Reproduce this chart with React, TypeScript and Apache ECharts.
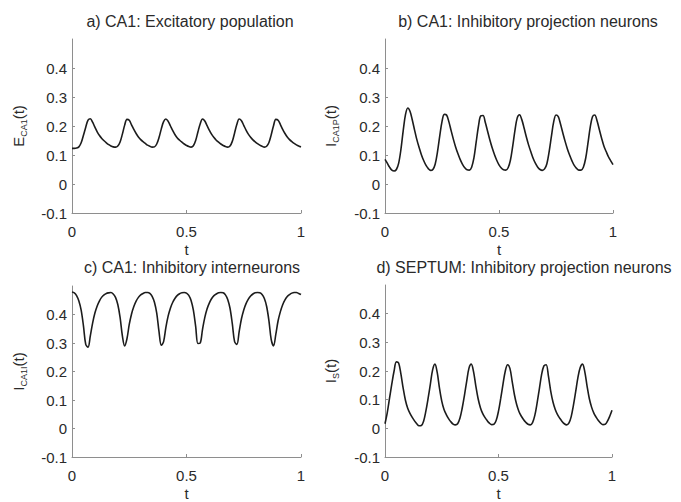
import React, { useEffect, useRef } from 'react';
import * as echarts from 'echarts';

// time grid (s)
const T = [
  0, 0.01, 0.02, 0.03, 0.04, 0.05, 0.06, 0.07, 0.08, 0.09,
  0.1, 0.11, 0.12, 0.13, 0.14, 0.15, 0.16, 0.17, 0.18, 0.19,
  0.2, 0.21, 0.22, 0.23, 0.24, 0.25, 0.26, 0.27, 0.28, 0.29,
  0.3, 0.31, 0.32, 0.33, 0.34, 0.35, 0.36, 0.37, 0.38, 0.39,
  0.4, 0.41, 0.42, 0.43, 0.44, 0.45, 0.46, 0.47, 0.48, 0.49,
  0.5, 0.51, 0.52, 0.53, 0.54, 0.55, 0.56, 0.57, 0.58, 0.59,
  0.6, 0.61, 0.62, 0.63, 0.64, 0.65, 0.66, 0.67, 0.68, 0.69,
  0.7, 0.71, 0.72, 0.73, 0.74, 0.75, 0.76, 0.77, 0.78, 0.79,
  0.8, 0.81, 0.82, 0.83, 0.84, 0.85, 0.86, 0.87, 0.88, 0.89,
  0.9, 0.91, 0.92, 0.93, 0.94, 0.95, 0.96, 0.97, 0.98, 0.99, 1,
];

// a) CA1 excitatory population E_CA1(t)
const E_CA1 = [
  0.123, 0.123, 0.124, 0.128, 0.142, 0.168, 0.196, 0.220, 0.225, 0.213,
  0.196, 0.180, 0.167, 0.157, 0.149, 0.142, 0.136, 0.131, 0.128, 0.127,
  0.131, 0.145, 0.172, 0.203, 0.223, 0.220, 0.204, 0.188, 0.174, 0.162,
  0.153, 0.146, 0.140, 0.134, 0.130, 0.127, 0.128, 0.138, 0.160, 0.190,
  0.215, 0.224, 0.216, 0.200, 0.184, 0.170, 0.159, 0.151, 0.144, 0.138,
  0.133, 0.129, 0.127, 0.132, 0.150, 0.180, 0.208, 0.224, 0.217, 0.201,
  0.185, 0.171, 0.160, 0.151, 0.144, 0.138, 0.133, 0.129, 0.127, 0.131,
  0.147, 0.176, 0.206, 0.224, 0.218, 0.202, 0.186, 0.172, 0.161, 0.152,
  0.145, 0.139, 0.134, 0.130, 0.127, 0.130, 0.143, 0.170, 0.201, 0.223,
  0.220, 0.205, 0.188, 0.174, 0.162, 0.153, 0.146, 0.140, 0.135, 0.131, 0.128,
];

// b) CA1 inhibitory projection neurons I_CA1P(t)
const I_CA1P = [
  0.085, 0.072, 0.058, 0.048, 0.045, 0.050, 0.072, 0.120, 0.185, 0.240,
  0.262, 0.250, 0.220, 0.185, 0.152, 0.125, 0.100, 0.080, 0.064, 0.053,
  0.047, 0.050, 0.068, 0.110, 0.165, 0.215, 0.240, 0.238, 0.215, 0.184,
  0.154, 0.127, 0.104, 0.084, 0.068, 0.056, 0.049, 0.048, 0.058, 0.090,
  0.145, 0.200, 0.235, 0.236, 0.212, 0.182, 0.152, 0.125, 0.102, 0.082,
  0.066, 0.055, 0.049, 0.048, 0.056, 0.082, 0.130, 0.185, 0.228, 0.239,
  0.222, 0.193, 0.162, 0.134, 0.110, 0.088, 0.071, 0.058, 0.050, 0.047,
  0.052, 0.070, 0.112, 0.165, 0.215, 0.238, 0.232, 0.206, 0.176, 0.147,
  0.121, 0.099, 0.080, 0.064, 0.054, 0.048, 0.048, 0.058, 0.088, 0.140,
  0.195, 0.232, 0.238, 0.218, 0.188, 0.158, 0.131, 0.112, 0.094, 0.080, 0.067,
];

// c) CA1 inhibitory interneurons I_CA1I(t)
const I_CA1I = [
  0.479, 0.476, 0.466, 0.447, 0.415, 0.360, 0.295, 0.285, 0.325, 0.370,
  0.405, 0.430, 0.448, 0.461, 0.469, 0.474, 0.476, 0.477, 0.472, 0.460,
  0.435, 0.390, 0.325, 0.290, 0.315, 0.365, 0.402, 0.428, 0.447, 0.460,
  0.469, 0.474, 0.477, 0.477, 0.474, 0.464, 0.443, 0.405, 0.340, 0.292,
  0.305, 0.355, 0.395, 0.423, 0.443, 0.457, 0.467, 0.473, 0.476, 0.477,
  0.475, 0.467, 0.449, 0.415, 0.358, 0.298, 0.300, 0.348, 0.390, 0.420,
  0.441, 0.456, 0.466, 0.472, 0.476, 0.477, 0.476, 0.469, 0.453, 0.422,
  0.368, 0.305, 0.295, 0.340, 0.385, 0.416, 0.438, 0.454, 0.465, 0.472,
  0.476, 0.477, 0.476, 0.470, 0.456, 0.428, 0.378, 0.312, 0.290, 0.330,
  0.378, 0.410, 0.434, 0.451, 0.463, 0.470, 0.475, 0.477, 0.477, 0.474, 0.470,
];

// d) SEPTUM inhibitory projection neurons I_S(t)
const I_S = [
  0.016, 0.055, 0.105, 0.155, 0.200, 0.232, 0.228, 0.190, 0.140, 0.098,
  0.070, 0.052, 0.038, 0.026, 0.016, 0.009, 0.010, 0.025, 0.060, 0.105,
  0.155, 0.205, 0.224, 0.195, 0.140, 0.095, 0.066, 0.048, 0.034, 0.023,
  0.015, 0.012, 0.016, 0.035, 0.070, 0.115, 0.165, 0.210, 0.224, 0.198,
  0.148, 0.104, 0.073, 0.052, 0.038, 0.027, 0.018, 0.013, 0.014, 0.028,
  0.060, 0.105, 0.155, 0.200, 0.222, 0.210, 0.165, 0.118, 0.083, 0.059,
  0.043, 0.031, 0.021, 0.014, 0.012, 0.020, 0.045, 0.088, 0.138, 0.188,
  0.218, 0.222, 0.182, 0.130, 0.092, 0.066, 0.048, 0.035, 0.024, 0.016,
  0.012, 0.018, 0.040, 0.080, 0.128, 0.178, 0.212, 0.224, 0.198, 0.148,
  0.104, 0.074, 0.053, 0.039, 0.027, 0.018, 0.013, 0.014, 0.025, 0.042, 0.063,
];

const Y_TICKS = [-0.1, 0, 0.1, 0.2, 0.3, 0.4];
const X_TICKS = [0, 0.5, 1];
const TITLES = [
  'a) CA1: Excitatory population',
  'b) CA1: Inhibitory projection neurons',
  'c) CA1: Inhibitory interneurons',
  'd) SEPTUM: Inhibitory projection neurons',
];
const Y_NAMES = [
  ['E', 'CA1'],
  ['I', 'CA1P'],
  ['I', 'CA1I'],
  ['I', 'S'],
];
const X_NAME = 't';
const SERIES = [E_CA1, I_CA1P, I_CA1I, I_S];

const FONT = '"Liberation Sans", Arial, Helvetica, sans-serif';
const AXIS_COLOR = '#8e8e8e';
const TEXT_COLOR = '#2a2a2a';
const LINE_COLOR = '#1c1c1c';

const GRIDS = [
  { left: 72, top: 39, width: 229, height: 174 },
  { left: 385, top: 39, width: 228, height: 174 },
  { left: 72, top: 286, width: 229, height: 176 },
  { left: 385, top: 285, width: 227, height: 176 },
];
const TITLE_POS = [
  { left: 190, top: 13 },
  { left: 528, top: 13 },
  { left: 192, top: 259 },
  { left: 524, top: 259 },
];
const Y_NAME_GAP = [44, 45, 44, 45];

const fmt = (v: number) => {
  const r = Math.round(v * 10) / 10;
  return r === 0 ? '0' : String(r);
};

export default function App() {
  const ref = useRef<HTMLDivElement>(null);
  useEffect(() => {
    if (!ref.current) return;
    const chart = echarts.init(ref.current, null, { renderer: 'svg' });
    const option: any = {
      animation: false,
      backgroundColor: '#ffffff',
      title: TITLES.map((t, i) => ({
        text: t,
        left: TITLE_POS[i].left,
        top: TITLE_POS[i].top,
        textAlign: 'center',
        padding: 0,
        textStyle: {
          fontFamily: FONT,
          fontSize: 16,
          lineHeight: 16,
          fontWeight: 'normal',
          color: TEXT_COLOR,
        },
      })),
      grid: GRIDS.map((g) => ({ ...g, containLabel: false })),
      xAxis: GRIDS.map((_, i) => ({
        type: 'value',
        gridIndex: i,
        min: 0,
        max: 1,
        interval: 0.5,
        name: X_NAME,
        nameLocation: 'middle',
        nameGap: 29,
        nameTextStyle: { fontFamily: FONT, fontSize: 15, lineHeight: 15, color: TEXT_COLOR },
        axisLine: { show: true, onZero: false, lineStyle: { color: AXIS_COLOR, width: 1 } },
        axisTick: { show: true, inside: true, length: 3, customValues: X_TICKS, lineStyle: { color: AXIS_COLOR } },
        axisLabel: {
          customValues: X_TICKS,
          margin: 11,
          fontFamily: FONT,
          fontSize: 15,
          color: TEXT_COLOR,
          formatter: (v: number) => String(v),
        },
        splitLine: { show: false },
      })),
      yAxis: GRIDS.map((_, i) => ({
        type: 'value',
        gridIndex: i,
        min: -0.1,
        max: 0.5,
        interval: 0.1,
        name: `{m|${Y_NAMES[i][0]}}{s|${Y_NAMES[i][1]}}{m|(t)}`,
        nameLocation: 'middle',
        nameRotate: 90,
        nameGap: Y_NAME_GAP[i],
        nameTextStyle: {
          fontFamily: FONT,
          color: TEXT_COLOR,
          rich: {
            m: { fontFamily: FONT, fontSize: 15, lineHeight: 17, verticalAlign: 'top', color: TEXT_COLOR },
            s: { fontFamily: FONT, fontSize: 9, lineHeight: 10, verticalAlign: 'bottom', color: TEXT_COLOR },
          },
        },
        axisLine: { show: true, onZero: false, lineStyle: { color: AXIS_COLOR, width: 1 } },
        axisTick: { show: true, inside: true, length: 3, customValues: Y_TICKS, lineStyle: { color: AXIS_COLOR } },
        axisLabel: {
          customValues: Y_TICKS,
          margin: 5,
          fontFamily: FONT,
          fontSize: 15,
          color: TEXT_COLOR,
          formatter: fmt,
        },
        splitLine: { show: false },
      })),
      series: SERIES.map((vals, i) => ({
        type: 'line',
        xAxisIndex: i,
        yAxisIndex: i,
        data: T.map((t, k) => [t, vals[k]]),
        showSymbol: false,
        smooth: 0.35,
        lineStyle: { color: LINE_COLOR, width: 1.6 },
        silent: true,
      })),
    };
    chart.setOption(option);
    return () => chart.dispose();
  }, []);
  return (
    <div
      ref={ref}
      style={{ position: 'fixed', left: 0, top: 0, width: 681, height: 502, background: '#fff' }}
    />
  );
}
